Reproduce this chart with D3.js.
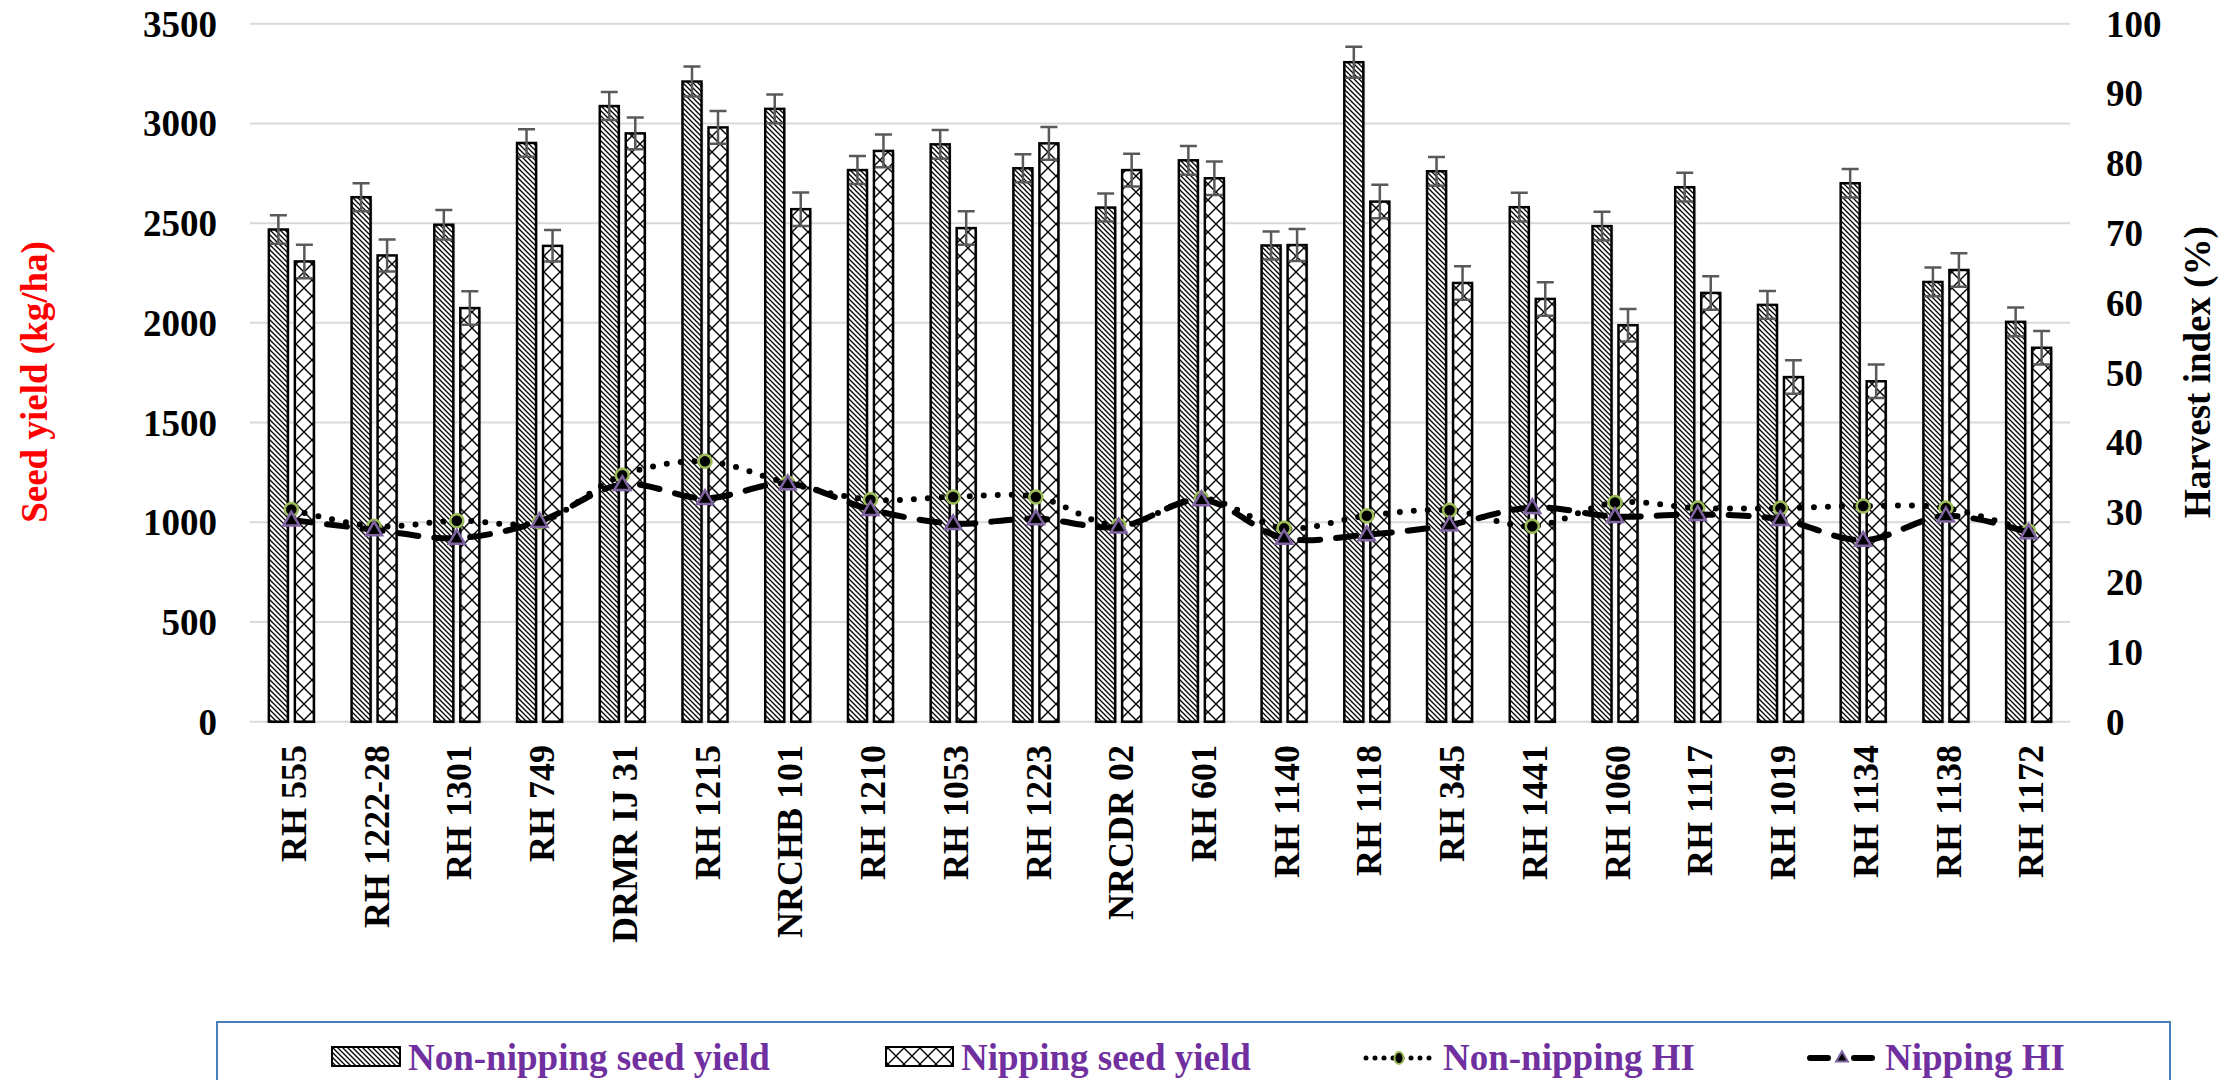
<!DOCTYPE html>
<html>
<head>
<meta charset="utf-8">
<script src="https://cdn.jsdelivr.net/npm/d3@7"></script>
<style>
  html, body { margin: 0; padding: 0; background: #ffffff; }
  svg text { font-family: "Liberation Serif", "Times New Roman", serif; font-weight: bold; }
</style>
</head>
<body>
<div id="chart"></div>
<script>
const categories = ["RH 555", "RH 1222-28", "RH 1301", "RH 749", "DRMR IJ 31", "RH 1215", "NRCHB 101",
    "RH 1210", "RH 1053", "RH 1223", "NRCDR 02", "RH 601", "RH 1140", "RH 1118", "RH 345", "RH 1441",
    "RH 1060", "RH 1117", "RH 1019", "RH 1134", "RH 1138", "RH 1172"];

const nonNippingYield = [2468, 2630, 2492, 2902, 3087, 3210, 3073, 2766, 2895, 2775, 2578, 2815, 2388, 3307,
    2760, 2580, 2485, 2680, 2090, 2700, 2205, 2005];
const nippingYield = [2308, 2338, 2074, 2386, 2950, 2980, 2570, 2862, 2475, 2900, 2766, 2725, 2390, 2608,
    2200, 2120, 1988, 2150, 1728, 1707, 2265, 1875];

const nonNippingErr = [72, 70, 74, 69, 70, 75, 72, 70, 72, 70, 70, 72, 70, 78, 72, 72, 72, 72, 70, 72, 72, 72];
const nippingErr = [84, 80, 84, 79, 80, 82, 84, 82, 84, 82, 82, 84, 80, 84, 84, 84, 82, 84, 84, 84, 84, 84];

const nonNippingHI = [30.4, 28.0, 28.8, 28.6, 35.3, 37.3, 34.2, 31.8, 32.2, 32.2, 28.1, 32.0, 27.7, 29.5,
    30.3, 28.0, 31.4, 30.6, 30.6, 30.9, 30.6, 27.3];
const nippingHI = [28.9, 27.5, 26.3, 28.7, 34.0, 32.0, 34.1, 30.4, 28.4, 29.1, 27.9, 31.8, 26.3, 26.8,
    28.2, 30.7, 29.4, 29.7, 29.0, 26.0, 29.5, 27.1];

const yieldTicks = [0, 500, 1000, 1500, 2000, 2500, 3000, 3500];
const hiTicks = [0, 10, 20, 30, 40, 50, 60, 70, 80, 90, 100];

const legendLabels = ["Non-nipping seed yield", "Nipping seed yield", "Non-nipping HI", "Nipping HI"];

const width = 2231, height = 1080;
const plotLeft = 250, plotRight = 2070, plotTop = 23.7, plotBottom = 721.7;

const svg = d3.select("#chart")
    .append("svg")
        .attr("width", width)
        .attr("height", height);

svg.append("rect")
    .attr("width", width)
    .attr("height", height)
    .attr("fill", "#ffffff");

// hatch patterns like the excel fills
const defs = svg.append("defs");
const stripe = defs.append("pattern")
    .attr("id", "stripe")
    .attr("patternUnits", "userSpaceOnUse")
    .attr("width", 5)
    .attr("height", 5);
stripe.append("rect").attr("width", 5).attr("height", 5).attr("fill", "#ffffff");
stripe.append("path")
    .attr("d", "M-1,-1 L6,6 M-1,4 L1,6 M4,-1 L6,1")
    .attr("stroke", "#000000")
    .attr("stroke-width", 1.3);

const cross = defs.append("pattern")
    .attr("id", "cross")
    .attr("patternUnits", "userSpaceOnUse")
    .attr("width", 16)
    .attr("height", 16);
cross.append("rect").attr("width", 16).attr("height", 16).attr("fill", "#ffffff");
cross.append("path")
    .attr("d", "M0,0 L16,16 M16,0 L0,16")
    .attr("stroke", "#000000")
    .attr("stroke-width", 1.4);

const x = d3.scaleBand()
    .domain(categories)
    .range([plotLeft, plotRight]);

const xInner = d3.scaleBand()
    .domain(["non", "nip"])
    .range([0, x.bandwidth()])
    .paddingInner(0.269)
    .paddingOuter(0.725);

const yLeft = d3.scaleLinear()
    .domain([0, 3500])
    .range([plotBottom, plotTop]);

const yRight = d3.scaleLinear()
    .domain([0, 100])
    .range([plotBottom, plotTop]);

// gridlines
svg.append("g")
    .selectAll("line")
    .data(yieldTicks)
    .enter()
    .append("line")
        .attr("x1", plotLeft)
        .attr("x2", plotRight)
        .attr("y1", d => yLeft(d))
        .attr("y2", d => yLeft(d))
        .attr("stroke", "#d9d9d9")
        .attr("stroke-width", 2);

// left tick labels
svg.append("g")
    .selectAll("text")
    .data(yieldTicks)
    .enter()
    .append("text")
        .attr("x", 217)
        .attr("y", d => yLeft(d))
        .attr("dy", "0.35em")
        .attr("text-anchor", "end")
        .attr("font-size", 37)
        .attr("fill", "#000000")
        .text(d => d);

// right tick labels
svg.append("g")
    .selectAll("text")
    .data(hiTicks)
    .enter()
    .append("text")
        .attr("x", 2106)
        .attr("y", d => yRight(d))
        .attr("dy", "0.35em")
        .attr("text-anchor", "start")
        .attr("font-size", 37)
        .attr("fill", "#000000")
        .text(d => d);

// axis titles
svg.append("text")
    .attr("transform", "translate(34, 382) rotate(-90)")
    .attr("dy", "0.35em")
    .attr("text-anchor", "middle")
    .attr("font-size", 37)
    .attr("fill", "#ff0000")
    .text("Seed yield (kg/ha)");

svg.append("text")
    .attr("transform", "translate(2197, 372) rotate(-90)")
    .attr("dy", "0.35em")
    .attr("text-anchor", "middle")
    .attr("font-size", 37)
    .attr("fill", "#000000")
    .text("Harvest index (%)");

// category labels
svg.append("g")
    .selectAll("text")
    .data(categories)
    .enter()
    .append("text")
        .attr("transform", d => "translate(" + (x(d) + x.bandwidth() / 2 + 2) + ", 745) rotate(-90)")
        .attr("dy", "0.35em")
        .attr("text-anchor", "end")
        .attr("font-size", 36)
        .attr("fill", "#000000")
        .text(d => d);

// bars
const barData = categories.map(function(cat, i) {
    return [
        { cat: cat, key: "non", value: nonNippingYield[i], err: nonNippingErr[i] },
        { cat: cat, key: "nip", value: nippingYield[i], err: nippingErr[i] }
    ];
}).flat();

const barGroup = svg.append("g");

barGroup.selectAll("rect.shadow")
    .data(barData)
    .enter()
    .append("rect")
        .attr("class", "shadow")
        .attr("x", d => x(d.cat) + xInner(d.key) + 2)
        .attr("y", d => yLeft(d.value) + 2)
        .attr("width", xInner.bandwidth())
        .attr("height", d => plotBottom - yLeft(d.value))
        .attr("fill", "#000000")
        .attr("opacity", 0.12);

barGroup.selectAll("rect.bar")
    .data(barData)
    .enter()
    .append("rect")
        .attr("class", "bar")
        .attr("x", d => x(d.cat) + xInner(d.key))
        .attr("y", d => yLeft(d.value))
        .attr("width", xInner.bandwidth())
        .attr("height", d => plotBottom - yLeft(d.value))
        .attr("fill", d => d.key === "non" ? "url(#stripe)" : "url(#cross)")
        .attr("stroke", "#000000")
        .attr("stroke-width", 2.5);

// error bars
const errGroup = svg.append("g")
    .attr("stroke", "#595959")
    .attr("stroke-width", 2.5);

errGroup.selectAll("path")
    .data(barData)
    .enter()
    .append("path")
        .attr("fill", "none")
        .attr("d", function(d) {
            const cx = x(d.cat) + xInner(d.key) + xInner.bandwidth() / 2;
            const top = yLeft(d.value + d.err);
            const bottom = yLeft(d.value - d.err);
            return "M" + (cx - 8.5) + "," + top + "H" + (cx + 8.5) +
                "M" + cx + "," + top + "V" + bottom +
                "M" + (cx - 8.5) + "," + bottom + "H" + (cx + 8.5);
        });

// harvest index lines
const hiLine = d3.line()
    .x((d, i) => x(categories[i]) + x.bandwidth() / 2)
    .y(d => yRight(d))
    .curve(d3.curveCatmullRom.alpha(0.5));

const triangle = d3.symbol().type(d3.symbolTriangle).size(110);

svg.append("path")
    .datum(nonNippingHI)
    .attr("d", hiLine)
    .attr("fill", "none")
    .attr("stroke", "#000000")
    .attr("stroke-width", 6)
    .attr("stroke-linecap", "round")
    .attr("stroke-dasharray", "0,14");

svg.append("g")
    .selectAll("circle")
    .data(nonNippingHI)
    .enter()
    .append("circle")
        .attr("cx", (d, i) => x(categories[i]) + x.bandwidth() / 2)
        .attr("cy", d => yRight(d))
        .attr("r", 6.5)
        .attr("fill", "#000000")
        .attr("stroke", "#9bbb59")
        .attr("stroke-width", 2.5);

svg.append("path")
    .datum(nippingHI)
    .attr("d", hiLine)
    .attr("fill", "none")
    .attr("stroke", "#000000")
    .attr("stroke-width", 6)
    .attr("stroke-linecap", "round")
    .attr("stroke-dasharray", "20,16");

svg.append("g")
    .selectAll("path")
    .data(nippingHI)
    .enter()
    .append("path")
        .attr("d", triangle)
        .attr("transform", (d, i) => "translate(" + (x(categories[i]) + x.bandwidth() / 2) + "," + (yRight(d) + 1) + ")")
        .attr("fill", "#000000")
        .attr("stroke", "#8064a2")
        .attr("stroke-width", 2.5);

// legend
const legend = svg.append("g");

legend.append("rect")
    .attr("x", 217)
    .attr("y", 1022)
    .attr("width", 1953)
    .attr("height", 80)
    .attr("fill", "#ffffff")
    .attr("stroke", "#4a7ebb")
    .attr("stroke-width", 2);

legend.append("rect")
    .attr("x", 332).attr("y", 1047)
    .attr("width", 68).attr("height", 19)
    .attr("fill", "url(#stripe)")
    .attr("stroke", "#000000")
    .attr("stroke-width", 2);

legend.append("rect")
    .attr("x", 886).attr("y", 1047)
    .attr("width", 67).attr("height", 19)
    .attr("fill", "url(#cross)")
    .attr("stroke", "#000000")
    .attr("stroke-width", 2);

legend.append("line")
    .attr("x1", 1366).attr("x2", 1430)
    .attr("y1", 1058).attr("y2", 1058)
    .attr("stroke", "#000000")
    .attr("stroke-width", 5)
    .attr("stroke-linecap", "round")
    .attr("stroke-dasharray", "0,9");

legend.append("ellipse")
    .attr("cx", 1399).attr("cy", 1058)
    .attr("rx", 4.5).attr("ry", 6)
    .attr("fill", "#000000")
    .attr("stroke", "#9bbb59")
    .attr("stroke-width", 2);

legend.append("line")
    .attr("x1", 1810).attr("x2", 1872)
    .attr("y1", 1058).attr("y2", 1058)
    .attr("stroke", "#000000")
    .attr("stroke-width", 6)
    .attr("stroke-linecap", "round")
    .attr("stroke-dasharray", "18,26");

legend.append("path")
    .attr("d", d3.symbol().type(d3.symbolTriangle).size(60))
    .attr("transform", "translate(1842,1058)")
    .attr("fill", "#000000")
    .attr("stroke", "#8064a2")
    .attr("stroke-width", 2);

const legendX = [408, 961, 1443, 1885];
legend.selectAll("text")
    .data(legendLabels)
    .enter()
    .append("text")
        .attr("x", (d, i) => legendX[i])
        .attr("y", 1070)
        .attr("font-size", 37)
        .attr("fill", "#7030a0")
        .text(d => d);
</script>
</body>
</html>
